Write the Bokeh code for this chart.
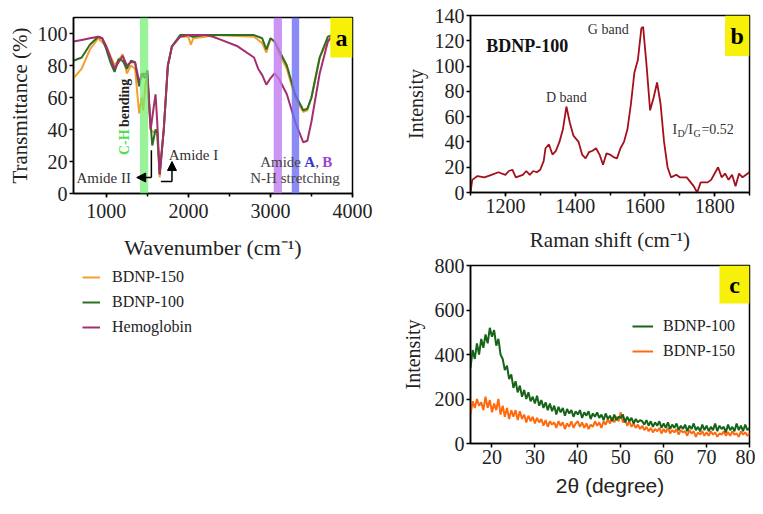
import numpy as np
from math import pi
from bokeh.plotting import figure
from bokeh.layouts import row, column
from bokeh.models import (Label, Legend, LegendItem, Arrow, NormalHead, BoxAnnotation,
                          FixedTicker, SingleIntervalTicker)
from bokeh.embed import file_html
from bokeh.resources import INLINE

SERIF = "Liberation Serif"

# ---- panel a: FTIR ----
ftir_hb_x = [600, 700, 800, 900, 950, 1000, 1050, 1100, 1150, 1200, 1250, 1300, 1350, 1400, 1450,
             1500, 1540, 1580, 1600, 1620, 1650, 1700, 1750, 1800, 1900, 2000, 2200, 2300, 2400,
             2600, 2800, 2850, 2900, 2950, 3000, 3050, 3100, 3200, 3300, 3400, 3450, 3500, 3600,
             3700, 3750]
ftir_hb_y = [95, 96, 97, 98, 97, 92, 85, 78, 82, 86, 80, 82, 82, 70, 75,
             74, 40, 55, 62, 45, 12, 40, 80, 92, 98, 99, 99, 98, 96,
             92, 85, 78, 74, 68, 72, 75, 72, 62, 45, 32, 33, 45, 75,
             95, 98]
ftir_100_x = [600, 700, 800, 900, 950, 1000, 1050, 1100, 1150, 1200, 1250, 1300, 1350, 1400, 1430,
              1470, 1500, 1530, 1560, 1600, 1620, 1650, 1700, 1750, 1800, 1900, 2000, 2050, 2200,
              2800, 2900, 2950, 3000, 3050, 3100, 3200, 3300, 3400, 3450, 3500, 3600, 3700, 3750]
ftir_100_y = [83, 85, 93, 98, 97, 90, 82, 76, 84, 83, 78, 83, 82, 67, 75,
              72, 77, 50, 30, 40, 38, 12, 40, 80, 92, 99, 99, 98, 99,
              99, 97, 90, 97, 95, 90, 80, 62, 52, 53, 60, 85, 98, 99]
ftir_150_x = [600, 700, 800, 900, 1000, 1100, 1200, 1250, 1300, 1350, 1400, 1430, 1450, 1480, 1500,
              1540, 1580, 1620, 1650, 1700, 1750, 1800, 1900, 2000, 2030, 2060, 2200, 2300, 2800,
              2900, 2950, 3000, 3050, 3100, 3200, 3300, 3400, 3450, 3500, 3600, 3700, 3750]
ftir_150_y = [72, 78, 90, 97, 92, 80, 87, 75, 80, 78, 50, 60, 52, 70, 72,
              40, 38, 40, 10, 40, 80, 92, 98, 98, 93, 97, 98, 99, 98,
              94, 88, 97, 95, 88, 78, 60, 51, 52, 60, 85, 96, 98]
ftir_names = ["BDNP-150", "BDNP-100", "Hemoglobin"]
ftir_colors = ["#f4a030", "#2c6e22", "#a2306e"]

# ---- panel b: Raman ----
raman_x = [1100, 1105, 1120, 1140, 1160, 1180, 1200, 1210, 1220, 1230, 1250, 1260, 1270, 1280, 1290,
           1300, 1310, 1315, 1325, 1335, 1345, 1355, 1365, 1375, 1385, 1395, 1410, 1420, 1430, 1440,
           1450, 1460, 1470, 1480, 1490, 1500, 1510, 1520, 1530, 1540, 1550, 1560, 1570, 1580, 1590,
           1595, 1605, 1615, 1625, 1635, 1645, 1655, 1665, 1675, 1690, 1700, 1720, 1740, 1750, 1760,
           1780, 1790, 1800, 1810, 1820, 1830, 1840, 1850, 1860, 1870, 1880, 1900]
raman_y = [0, 10, 13, 12, 14, 16, 14, 17, 18, 12, 14, 17, 14, 17, 16,
           18, 25, 35, 38, 30, 33, 40, 50, 68, 55, 45, 40, 30, 27, 32,
           33, 35, 30, 22, 31, 30, 28, 27, 35, 40, 50, 70, 95, 105, 130,
           131, 100, 65, 75, 87, 70, 40, 20, 12, 14, 12, 12, 5, 0, 8,
           8, 10, 15, 20, 12, 15, 10, 14, 5, 15, 12, 16]

# ---- panel c: XRD (step 0.5 deg) ----
xrd_theta = np.arange(15, 80.01, 0.5)
xrd_100 = [340, 420, 380, 450, 400, 470, 430, 490, 450, 520,
           480, 510, 440, 470, 400, 380, 330, 350, 290, 310,
           250, 280, 230, 260, 210, 240, 200, 230, 190, 210,
           180, 215, 170, 195, 160, 185, 150, 180, 145, 170,
           130, 165, 140, 160, 125, 155, 135, 150, 120, 145,
           130, 150, 115, 140, 125, 145, 110, 135, 120, 140,
           115, 130, 105, 135, 110, 125, 100, 130, 105, 120,
           115, 130, 95, 120, 100, 115, 90, 110, 95, 105,
           100, 85, 105, 80, 100, 75, 95, 80, 100, 70,
           90, 70, 95, 65, 85, 70, 90, 60, 80, 65,
           85, 55, 80, 65, 90, 60, 75, 55, 85, 60,
           80, 55, 75, 60, 90, 55, 80, 65, 75, 50,
           85, 60, 75, 55, 90, 60, 80, 55, 85, 60,
           70]
xrd_150 = [130, 190, 160, 200, 170, 185, 150, 210, 160, 195,
           140, 180, 150, 200, 130, 170, 120, 160, 110, 150,
           120, 150, 105, 145, 110, 130, 95, 125, 100, 120,
           90, 115, 95, 110, 80, 105, 75, 100, 85, 95,
           70, 100, 80, 95, 65, 90, 75, 100, 70, 90,
           100, 75, 95, 70, 90, 65, 85, 75, 100, 80,
           95, 70, 100, 85, 110, 90, 115, 95, 120, 100,
           140, 95, 110, 80, 100, 75, 90, 70, 85, 65,
           80, 60, 75, 55, 70, 50, 65, 55, 70, 45,
           65, 50, 70, 45, 60, 50, 65, 40, 60, 50,
           55, 35, 60, 45, 55, 30, 50, 40, 55, 35,
           50, 35, 55, 40, 50, 30, 45, 40, 55, 35,
           50, 35, 55, 40, 45, 30, 55, 40, 50, 35,
           45]


def style(p, tick_font="20px"):
    p.outline_line_color = "black"
    p.outline_line_width = 1.5
    p.grid.grid_line_color = None
    for ax in p.axis:
        ax.axis_line_width = 1.5
        ax.major_tick_line_width = 1.5
        ax.major_tick_in = 0
        ax.major_tick_out = 4
        ax.minor_tick_in = 0
        ax.minor_tick_out = 3
        ax.minor_tick_line_width = 1.5
        ax.major_label_text_font = SERIF
        ax.major_label_text_font_size = tick_font
        ax.major_label_text_color = "#222222"
        ax.major_label_standoff = 2
        ax.axis_label_text_font = SERIF
        ax.axis_label_text_font_style = "normal"
        ax.axis_label_text_color = "#222222"
    p.yaxis.minor_tick_line_color = None


def tag(p, left, top, bottom, right, letter):
    p.add_layout(BoxAnnotation(left=left, right=right, top=top, bottom=bottom,
                               fill_color="#f7f10a", fill_alpha=1, line_color=None))
    p.add_layout(Label(x=(left + right) / 2, y=(top + bottom) / 2, text=letter,
                       text_font=SERIF, text_font_style="bold", text_font_size="24px",
                       text_align="center", text_baseline="middle", text_color="black"))


# ================= panel a =================
pa = figure(frame_width=279, frame_height=176, x_range=(600, 4000), y_range=(0, 110),
            min_border_left=73, min_border_right=28, min_border_top=17, min_border_bottom=75,
            toolbar_location=None, output_backend="svg")
style(pa)
pa.xaxis.ticker = SingleIntervalTicker(interval=1000, num_minor_ticks=2)
pa.yaxis.ticker = FixedTicker(ticks=[0, 20, 40, 60, 80, 100])
pa.xaxis.axis_label = "Wavenumber (cm\u207b\u00b9)"
pa.yaxis.axis_label = "Transmittance (%)"
pa.xaxis.axis_label_text_font_size = "22px"
pa.yaxis.axis_label_text_font_size = "21px"
pa.xaxis.major_label_standoff = 6
pa.xaxis.axis_label_standoff = 14
pa.yaxis.axis_label_standoff = 3

ftir_series = [(ftir_150_x, ftir_150_y), (ftir_100_x, ftir_100_y), (ftir_hb_x, ftir_hb_y)]
for (xs, ys), col in zip(ftir_series, ftir_colors):
    pa.line(xs, ys, line_color=col, line_width=2)

# bands
pa.add_layout(BoxAnnotation(left=1410, right=1510, fill_color="#6ef06e", fill_alpha=0.7, line_color=None))
pa.add_layout(BoxAnnotation(left=3040, right=3140, fill_color="#c07af0", fill_alpha=0.8, line_color=None))
pa.add_layout(BoxAnnotation(left=3260, right=3350, fill_color="#6e6ef5", fill_alpha=0.8, line_color=None))

# C-H bending (vertical)
pa.add_layout(Label(x=1221, y=24, text="C-H", angle=pi / 2, text_font=SERIF, text_font_style="bold",
                    text_font_size="14px", text_color="#4ee04e", text_align="left", text_baseline="middle"))
pa.add_layout(Label(x=1221, y=24, y_offset=28, text="bending", angle=pi / 2, text_font=SERIF,
                    text_font_style="bold", text_font_size="14px", text_color="#222222",
                    text_align="left", text_baseline="middle"))

# Amide II arrow
pa.line([1549, 1549], [27, 10], line_color="black", line_width=1.5)
pa.add_layout(Arrow(end=NormalHead(size=9, fill_color="black", line_color="black"),
                    x_start=1549, y_start=10, x_end=1370, y_end=10, line_width=1.5))
pa.add_layout(Label(x=1300, y=10, text="Amide II", text_font=SERIF, text_font_size="15px",
                    text_color="#333333", text_align="right", text_baseline="middle"))
# Amide I arrow
pa.line([1665, 1800], [7.5, 7.5], line_color="black", line_width=1.5)
pa.add_layout(Arrow(end=NormalHead(size=9, fill_color="black", line_color="black"),
                    x_start=1800, y_start=7.5, x_end=1800, y_end=20, line_width=1.5))
pa.add_layout(Label(x=1760, y=24, text="Amide I", text_font=SERIF, text_font_size="15px",
                    text_color="#333333", text_align="left", text_baseline="middle"))

# Amide A, B / N-H stretching
for txt, off, col, sty in [("Amide", 0, "#444444", "normal"), ("A", 44, "#3434d8", "bold"),
                           (",", 55, "#444444", "normal"), ("B", 62, "#a040d0", "bold")]:
    pa.add_layout(Label(x=2875, y=19.5, x_offset=off, text=txt, text_font=SERIF, text_font_size="15px",
                        text_font_style=sty, text_color=col, text_align="left", text_baseline="middle"))
pa.add_layout(Label(x=3300, y=9.5, text="N-H stretching", text_font=SERIF, text_font_size="15px",
                    text_color="#444444", text_align="center", text_baseline="middle"))

tag(pa, 3730, 110, 85, 4000, "a")

# legend of panel a lives in its own blank figure underneath (series kept out of its view range)
pleg = figure(width=372, height=90, x_range=(0, 1), y_range=(0, 1), min_border=0,
              toolbar_location=None, output_backend="svg")
pleg.axis.visible = False
pleg.grid.grid_line_color = None
pleg.outline_line_color = None
leg_items = []
for (xs, ys), name, col in zip(ftir_series, ftir_names, ftir_colors):
    r = pleg.line(xs, ys, line_color=col, line_width=2)
    leg_items.append(LegendItem(label=name, renderers=[r]))
leg_a = Legend(items=leg_items, location=(9, 22), glyph_width=18, glyph_height=16, label_height=16,
               label_standoff=12, spacing=7, padding=0, margin=0,
               border_line_color=None, background_fill_alpha=0,
               label_text_font=SERIF, label_text_font_size="16px", label_text_color="#222222")
pleg.add_layout(leg_a)

# ================= panel b =================
pb = figure(frame_width=279, frame_height=177, x_range=(1100, 1900), y_range=(0, 140),
            min_border_left=89, min_border_right=7, min_border_top=15, min_border_bottom=63,
            toolbar_location=None, output_backend="svg")
style(pb)
pb.xaxis.ticker = SingleIntervalTicker(interval=200, num_minor_ticks=2)
pb.yaxis.ticker = SingleIntervalTicker(interval=20)
pb.xaxis.axis_label = "Raman shift (cm\u207b\u00b9)"
pb.yaxis.axis_label = "Intensity"
pb.xaxis.axis_label_text_font_size = "21px"
pb.yaxis.axis_label_text_font_size = "20px"
pb.xaxis.axis_label_standoff = 12
pb.yaxis.axis_label_standoff = 5
pb.line(raman_x, raman_y, line_color="#a3101c", line_width=1.8)

pb.add_layout(Label(x=1145, y=116, text="BDNP-100", text_font=SERIF, text_font_style="bold",
                    text_font_size="18px", text_color="#111111", text_align="left", text_baseline="middle"))
pb.add_layout(Label(x=1495, y=129, text="G band", text_font=SERIF, text_font_size="14px",
                    text_color="#333333", text_align="center", text_baseline="middle"))
pb.add_layout(Label(x=1375, y=75, text="D band", text_font=SERIF, text_font_size="14px",
                    text_color="#333333", text_align="center", text_baseline="middle"))
for txt, off, dy, size in [("I", 0, 0, "14px"), ("D", 5, -4, "10px"), ("/I", 12, 0, "14px"),
                           ("G", 21, -4, "10px"), ("=0.52", 29, 0, "14px")]:
    pb.add_layout(Label(x=1679, y=50, x_offset=off, y_offset=dy, text=txt, text_font=SERIF,
                        text_font_size=size, text_color="#333333", text_align="left",
                        text_baseline="middle"))
tag(pb, 1830, 140, 108, 1900, "b")

# ================= panel c =================
pc = figure(frame_width=279, frame_height=178, x_range=(15, 80), y_range=(0, 800),
            min_border_left=90, min_border_right=6, min_border_top=10, min_border_bottom=55,
            toolbar_location=None, output_backend="svg")
style(pc)
pc.xaxis.ticker = SingleIntervalTicker(interval=10, num_minor_ticks=0)
pc.yaxis.ticker = SingleIntervalTicker(interval=200)
pc.xaxis.minor_tick_line_color = None
pc.xaxis.axis_label = "2\u03b8 (degree)"
pc.xaxis.axis_label_text_font = "Liberation Sans"
pc.yaxis.axis_label = "Intensity"
pc.xaxis.axis_label_text_font_size = "21px"
pc.yaxis.axis_label_text_font_size = "20px"
pc.xaxis.axis_label_standoff = 7
pc.yaxis.axis_label_standoff = 8
g100 = pc.line(xrd_theta, xrd_100, line_color="#16641a", line_width=2)
o150 = pc.line(xrd_theta, xrd_150, line_color="#ff6a0e", line_width=2)
pc.renderers.remove(o150)
pc.renderers.insert(0, o150)
leg_c = Legend(items=[LegendItem(label="BDNP-100", renderers=[g100]),
                      LegendItem(label="BDNP-150", renderers=[o150])],
               location=(162, 82), glyph_width=21, glyph_height=20, label_height=20,
               label_standoff=10, spacing=5, padding=0, margin=0,
               border_line_color=None, background_fill_alpha=0,
               label_text_font=SERIF, label_text_font_size="16px", label_text_color="#222222")
pc.add_layout(leg_c)
tag(pc, 73, 800, 629, 80, "c")

layout = row(column(pa, pleg), column(pb, pc))
open("out.html", "w").write(file_html(layout, INLINE))
